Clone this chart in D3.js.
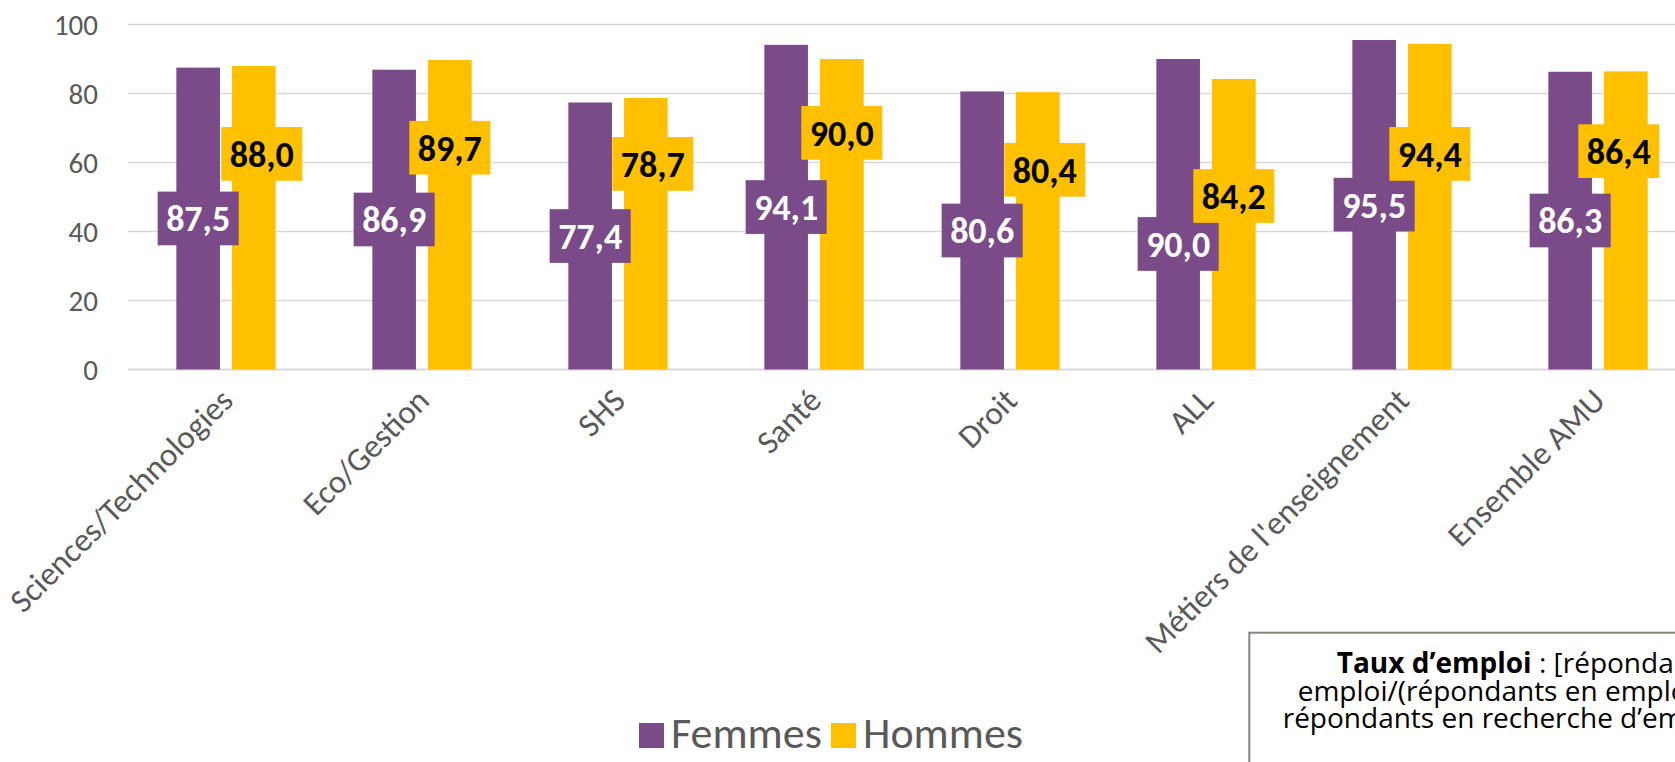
<!DOCTYPE html>
<html>
<head>
<meta charset="utf-8">
<script src="https://cdn.jsdelivr.net/npm/d3@7"></script>
<style>
  html, body { margin: 0; padding: 0; background: #fff; overflow: hidden; }
  svg { display: block; font-family: Calibri, Carlito, Lato, sans-serif; }
</style>
</head>
<body>
<svg width="1675" height="762"></svg>
<script>
// data
const categories = ["Sciences/Technologies", "Eco/Gestion", "SHS", "Santé", "Droit", "ALL", "Métiers de l'enseignement", "Ensemble AMU"];
const series = ["Femmes", "Hommes"];
const femmes = [87.5, 86.9, 77.4, 94.1, 80.6, 90.0, 95.5, 86.3];
const hommes = [88.0, 89.7, 78.7, 90.0, 80.4, 84.2, 94.4, 86.4];
const yTicks = [0, 20, 40, 60, 80, 100];
// where the data labels sit (value units, they were moved by hand in the original)
const femmesLabelAt = [43.8, 43.5, 38.7, 47.1, 40.3, 36.4, 47.8, 43.2];
const hommesLabelAt = [62.5, 64.3, 59.6, 68.6, 57.9, 50.3, 62.5, 63.3];

const colors = { Femmes: "#7b4a89", Hommes: "#ffc000" };
const labelText = { Femmes: "#ffffff", Hommes: "#000000" };

const svg = d3.select("svg");
const plotLeft = 128, plotTop = 24.5, plotBottom = 369.5;

const x0 = d3.scaleBand().domain(categories).range([plotLeft, plotLeft + 8 * 196]);
const x1 = d3.scaleBand().domain(series).range([0, x0.bandwidth()])
    .paddingInner(0.217).paddingOuter(0.868);
const y = d3.scaleLinear().domain([0, 100]).range([plotBottom, plotTop]);

const fmt = v => d3.format(".1f")(v).replace(".", ",");

// gridlines
svg.append("g")
    .selectAll("line")
    .data(yTicks)
    .enter().append("line")
    .attr("x1", plotLeft).attr("x2", 1675)
    .attr("y1", d => y(d)).attr("y2", d => y(d))
    .attr("stroke", "#d9d9d9")
    .attr("stroke-width", d => d === 0 ? 2 : 1.5);

// y axis labels
svg.append("g")
    .selectAll("text")
    .data(yTicks)
    .enter().append("text")
    .attr("x", 98).attr("y", d => y(d))
    .attr("dy", "0.36em")
    .attr("text-anchor", "end")
    .attr("fill", "#595959")
    .style("font-size", "29px")
    .text(d => d);

const rows = categories.map((c, i) => ({
    cat: c,
    vals: [
        { s: "Femmes", v: femmes[i], at: femmesLabelAt[i], i: i },
        { s: "Hommes", v: hommes[i], at: hommesLabelAt[i], i: i }
    ]
}));

const groups = svg.append("g")
    .selectAll("g")
    .data(rows)
    .enter().append("g")
    .attr("transform", d => "translate(" + x0(d.cat) + ",0)");

groups.selectAll("rect")
    .data(d => d.vals)
    .enter().append("rect")
    .attr("x", d => x1(d.s))
    .attr("width", x1.bandwidth())
    .attr("y", d => y(d.v))
    .attr("height", d => y(0) - y(d.v))
    .attr("fill", d => colors[d.s]);

// small sideways nudges of some Hommes labels (px), as in the original
const hommesNudge = [8, 0, 7, 0, 7, 0, 0, -7];

// data labels with filled boxes
groups.each(function(row) {
    const g = d3.select(this);
    row.vals.forEach(function(d) {
        let cx = x1(d.s) + x1.bandwidth() / 2;
        if (d.s === "Hommes") cx += hommesNudge[d.i];
        const cy = y(d.at);
        const lab = g.append("g");
        const box = lab.append("rect").attr("fill", colors[d.s]);
        const t = lab.append("text")
            .attr("x", cx).attr("y", cy)
            .attr("dy", "0.36em")
            .attr("text-anchor", "middle")
            .attr("fill", labelText[d.s])
            .style("font-size", "36px")
            .style("font-weight", "bold")
            .text(fmt(d.v));
        const w = t.node().getComputedTextLength() + 17;
        box.attr("x", cx - w / 2).attr("y", cy - 26.8)
            .attr("width", w).attr("height", 53.7);
    });
});

// category labels, rotated 45 degrees, end of text at the tick
svg.append("g")
    .selectAll("text")
    .data(categories)
    .enter().append("text")
    .attr("transform", d => "translate(" + (x0(d) + x0.bandwidth() / 2 + 9) + "," + (plotBottom + 33) + ") rotate(-45)")
    .attr("text-anchor", "end")
    .attr("fill", "#595959")
    .style("font-size", "33px")
    .text(d => d);

// legend
const legend = svg.append("g");
const legendX = { Femmes: 639, Hommes: 831 };
series.forEach(function(s) {
    legend.append("rect")
        .attr("x", legendX[s]).attr("y", 723)
        .attr("width", 25).attr("height", 25)
        .attr("fill", colors[s]);
    legend.append("text")
        .attr("x", legendX[s] + 32).attr("y", 748)
        .attr("fill", "#595959")
        .style("font-size", "44px")
        .text(s);
});

// definition box
svg.append("rect")
    .attr("x", 1249.3).attr("y", 632.7)
    .attr("width", 500).attr("height", 200)
    .attr("fill", "#fff")
    .attr("stroke", "#858578")
    .attr("stroke-width", 2);

const note = svg.append("g")
    .style("font-family", "'Open Sans', sans-serif")
    .style("font-size", "28px")
    .attr("fill", "#000");
const l1 = note.append("text").attr("x", 1336.7).attr("y", 673);
l1.append("tspan").style("font-weight", "bold").text("Taux d\u2019emploi");
l1.append("tspan").text(" : [répondants en");
note.append("text").attr("x", 1297.7).attr("y", 700.5).text("emploi/(répondants en emploi +");
note.append("text").attr("x", 1282.7).attr("y", 728).text("répondants en recherche d\u2019emploi)]");
</script>
</body>
</html>
